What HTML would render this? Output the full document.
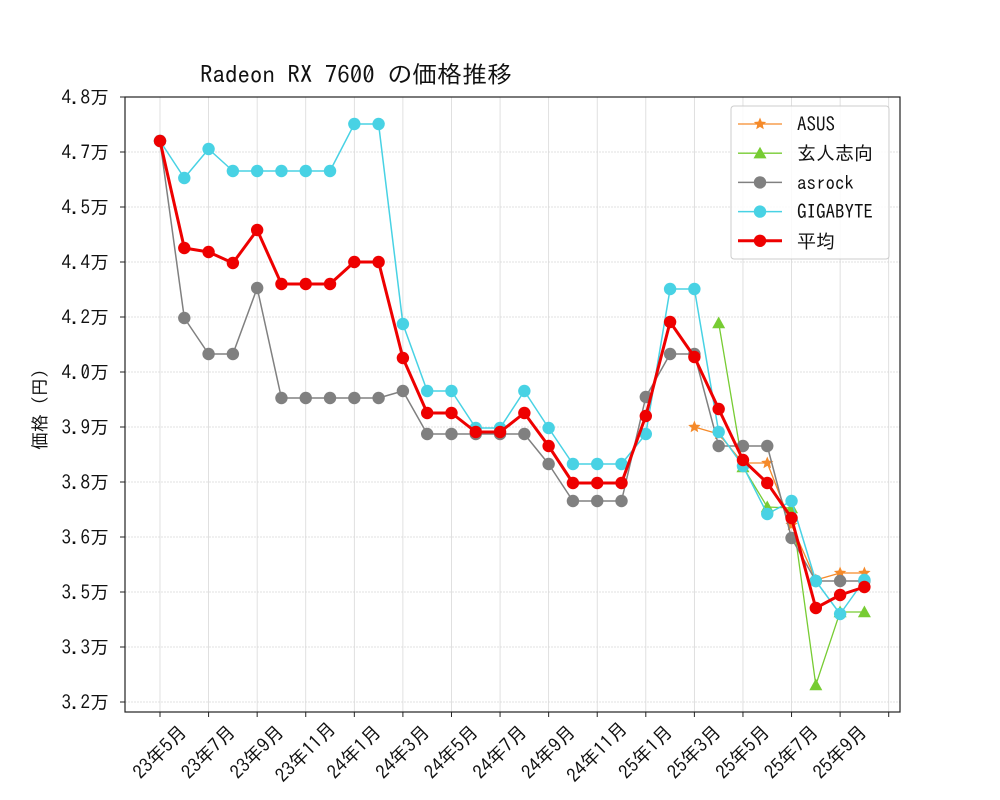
<!DOCTYPE html>
<html><head><meta charset="utf-8"><style>
html,body{margin:0;padding:0;background:#fff;}
svg{display:block;font-family:"IPAGothic","Liberation Sans","Noto Sans CJK JP",sans-serif;}
</style></head><body>
<svg width="1000" height="800" viewBox="0 0 1000 800" xmlns="http://www.w3.org/2000/svg">
<rect width="1000" height="800" fill="#fff"/>
<g id="grid" stroke="#d8d8d8" stroke-width="0.8"></g>
<g id="series"></g>
<rect x="125" y="97" width="775" height="615" fill="none" stroke="#222" stroke-width="1.2"/>
<g id="ticks" stroke="#222" stroke-width="1"></g>
<g id="labels" font-size="19" fill="#111"></g>
<text x="200" y="83" font-size="24" fill="#111" textLength="312" lengthAdjust="spacingAndGlyphs">Radeon RX 7600 の価格推移</text>
<text transform="translate(46,405) rotate(-90)" text-anchor="middle" font-size="18" fill="#111">価格（円）</text>
<g id="legend">
<rect x="731" y="106" width="158" height="153" rx="3" fill="#fff" fill-opacity="0.85" stroke="#ccc"/>
</g>
</svg>
<script>
const NS="http://www.w3.org/2000/svg";
function el(p,t,a,txt){const e=document.createElementNS(NS,t);for(const k in a)e.setAttribute(k,a[k]);if(txt!==undefined)e.textContent=txt;document.getElementById(p).appendChild(e);return e;}
const X=i=>160+24.29*i;
const yt=[[97,"4.8万"],[152,"4.7万"],[207,"4.5万"],[262,"4.4万"],[317,"4.2万"],[372,"4.0万"],[427,"3.9万"],[482,"3.8万"],[537,"3.6万"],[592,"3.5万"],[647,"3.3万"],[702,"3.2万"]];
yt.forEach(([y,t])=>{if(y>97)el("grid","line",{x1:125,x2:900,y1:y,y2:y,"stroke-dasharray":"2,1"});el("ticks","line",{x1:120,x2:125,y1:y,y2:y});el("labels","text",{x:109,y:y+7,"text-anchor":"end"},t);});
const xl=["23年5月","23年7月","23年9月","23年11月","24年1月","24年3月","24年5月","24年7月","24年9月","24年11月","25年1月","25年3月","25年5月","25年7月","25年9月",""];
xl.forEach((t,k)=>{const x=X(2*k);el("grid","line",{x1:x,x2:x,y1:97,y2:712});el("ticks","line",{x1:x,x2:x,y1:712,y2:717});if(t){el("labels","text",{x:x,y:752,"text-anchor":"middle","dominant-baseline":"central",transform:`rotate(-45 ${x} 752)`},t);}});
function series(pts,color,w,marker,ms){const d=pts.map(([i,y],k)=>(k?"L":"M")+X(i).toFixed(1)+","+y).join(" ");el("series","path",{d:d,fill:"none",stroke:color,"stroke-width":w,"stroke-linejoin":"round"});pts.forEach(([i,y])=>mark("series",X(i),y,color,marker,ms));}
function mark(p,x,y,c,m,s){if(m==="o")el(p,"circle",{cx:x,cy:y,r:s,fill:c});else if(m==="^")el(p,"polygon",{points:`${x},${y-s} ${x-s},${y+s*0.8} ${x+s},${y+s*0.8}`,fill:c});else{let pts=[];for(let k=0;k<10;k++){const r=k%2?s*0.45:s;const a=-Math.PI/2+k*Math.PI/5;pts.push((x+r*Math.cos(a)).toFixed(1)+","+(y+r*Math.sin(a)).toFixed(1));}el(p,"polygon",{points:pts.join(" "),fill:c});}}
const gray=[141,318,354,354,288,398,398,398,398,398,391,434,434,434,434,434,464,501,501,501,397,354,354,446,446,446,538,581,581,581].map((y,i)=>[i,y]);
const cyan=[141,178,149,171,171,171,171,171,124,124,324,391,391,428,428,391,428,464,464,464,434,289,289,432,466,514,501,581,614,580].map((y,i)=>[i,y]);
const red=[141,248,252,263,230,284,284,284,262,262,358,413,413,432,432,413,446,483,483,483,416,322,357,409,460,483,518,608,595,587].map((y,i)=>[i,y]);
const asus=[[22,427],[23,434],[24,463],[25,463],[26,525],[27,580],[28,573],[29,573]];
const green=[[23,323],[24,467],[25,507],[26,508],[27,685],[28,612],[29,612]];
series(asus,"#f58a2a",1.3,"*",6.5);
series(green,"#77cc33",1.3,"^",6.5);
series(gray,"#808080",1.5,"o",6.2);
series(cyan,"#48d2e4",1.5,"o",6.2);
series(red,"#ee0000",3,"o",6.2);
const lg=[["ASUS","#f58a2a","*",1.3,6.5],["玄人志向","#77cc33","^",1.3,6.5],["asrock","#808080","o",1.5,6.2],["GIGABYTE","#48d2e4","o",1.5,6.2],["平均","#ee0000","o",3,6.2]];
lg.forEach(([t,c,m,w,s],k)=>{const y=124+29.2*k;el("legend","line",{x1:738,x2:782,y1:y,y2:y,stroke:c,"stroke-width":w});mark("legend",760,y,c,m,s);el("legend","text",{x:797,y:y+7,"font-size":"19",fill:"#111"},t);});
</script>
</body></html>
